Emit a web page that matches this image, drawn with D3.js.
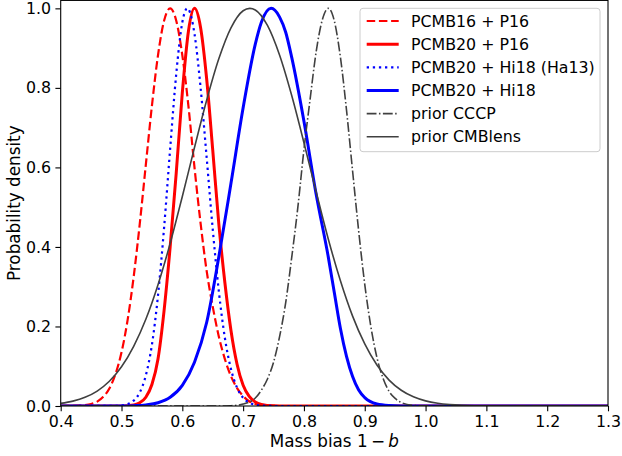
<!DOCTYPE html>
<html>
<head>
<meta charset="utf-8">
<script src="https://cdn.jsdelivr.net/npm/d3@7"></script>
<style>
  body { margin: 0; background: #fff; }
  svg { display: block; font-family: "DejaVu Sans", sans-serif; }
</style>
</head>
<body>
<div id="chart"></div>
<script>
// values
const labels = ["PCMB16 + P16", "PCMB20 + P16", "PCMB20 + Hi18 (Ha13)", "PCMB20 + Hi18", "prior CCCP", "prior CMBlens"];

const xP16old = [0.40,0.43,0.44,0.45,0.46,0.47,0.48,0.49,0.50,0.51,0.52,0.53,0.54,0.55,0.56,0.57,0.58,0.59,0.60,0.61,0.62,0.63,0.64,0.65,0.66,0.67,0.68,0.69,0.70,0.71,0.72,0.74,0.76,1.30];
const yP16old = [0,0.0009,0.0022,0.0051,0.011,0.023,0.044,0.080,0.135,0.216,0.325,0.458,0.607,0.755,0.882,0.969,1.0,0.969,0.882,0.755,0.60,0.46,0.34,0.25,0.175,0.118,0.075,0.045,0.025,0.012,0.005,0.0008,0,0];

const xP16 = [0.40,0.49,0.50,0.51,0.52,0.53,0.54,0.55,0.56,0.57,0.58,0.59,0.60,0.61,0.62,0.63,0.64,0.65,0.66,0.67,0.68,0.69,0.70,0.71,0.72,0.73,0.75,0.77,1.30];
const yP16 = [0,0,0.0002,0.0008,0.0026,0.0081,0.022,0.054,0.118,0.24,0.40,0.586,0.788,0.942,1.0,0.952,0.823,0.644,0.458,0.31,0.19,0.105,0.052,0.024,0.010,0.004,0.0005,0,0];

const xHa13 = [0.40,0.49,0.50,0.51,0.52,0.53,0.54,0.55,0.56,0.57,0.58,0.59,0.60,0.608,0.61,0.62,0.63,0.64,0.65,0.66,0.67,0.68,0.69,0.70,0.71,0.72,0.74,0.76,1.30];
const yHa13 = [0,0.0004,0.0015,0.0048,0.0135,0.034,0.077,0.154,0.278,0.448,0.647,0.835,0.965,1.0,0.998,0.936,0.801,0.625,0.445,0.289,0.171,0.093,0.046,0.0205,0.0084,0.0032,0.0003,0,0];

const xHi18 = [0.40,0.48,0.50,0.52,0.54,0.56,0.58,0.60,0.62,0.64,0.66,0.68,0.70,0.72,0.73,0.746,0.76,0.77,0.78,0.80,0.82,0.84,0.85,0.86,0.87,0.88,0.89,0.90,0.92,0.94,0.96,0.98,1.30];
const yHi18 = [0,0,0.0001,0.0008,0.0028,0.0082,0.022,0.052,0.11,0.21,0.375,0.56,0.75,0.91,0.965,1.0,0.978,0.94,0.876,0.716,0.533,0.375,0.285,0.195,0.125,0.074,0.040,0.021,0.005,0.0012,0.0002,0,0];

const xCCCP = [0.40,0.66,0.68,0.70,0.72,0.73,0.74,0.75,0.76,0.77,0.78,0.79,0.80,0.81,0.82,0.83,0.84,0.85,0.86,0.87,0.88,0.89,0.90,0.91,0.92,0.93,0.94,0.95,0.96,0.98,1.00,1.30];
const yCCCP = [0,0.0001,0.0007,0.005,0.02,0.04,0.068,0.11,0.175,0.26,0.375,0.50,0.645,0.77,0.89,0.97,1.0,0.968,0.877,0.744,0.591,0.440,0.306,0.200,0.122,0.070,0.037,0.019,0.0088,0.0016,0.0002,0];

const xLens = [0.40,0.42,0.44,0.46,0.48,0.50,0.52,0.54,0.56,0.58,0.60,0.62,0.64,0.66,0.68,0.70,0.711,0.72,0.74,0.76,0.78,0.80,0.82,0.84,0.86,0.88,0.90,0.92,0.94,0.96,0.98,1.00,1.02,1.04,1.06,1.08,1.10,1.15,1.30];
const yLens = [0.0065,0.0122,0.0219,0.0376,0.0622,0.0985,0.15,0.218,0.305,0.409,0.527,0.650,0.769,0.873,0.951,0.994,1.0,0.996,0.957,0.882,0.780,0.662,0.539,0.420,0.315,0.226,0.156,0.103,0.0652,0.0396,0.0231,0.0129,0.0069,0.0036,0.0018,0.0008,0.0004,0,0];

const xTicks = [0.4,0.5,0.6,0.7,0.8,0.9,1.0,1.1,1.2,1.3];
const yTicks = [0.0,0.2,0.4,0.6,0.8,1.0];

const xs = [xP16old, xP16, xHa13, xHi18, xCCCP, xLens];
const ys = [yP16old, yP16, yHa13, yHi18, yCCCP, yLens];

// styles
const styles = [
  {color: "#ff0000", width: 2.2, dash: "8.5,3.7"},
  {color: "#ff0000", width: 3, dash: null},
  {color: "#0000ff", width: 2.2, dash: "2.3,3.8"},
  {color: "#0000ff", width: 3, dash: null},
  {color: "#404040", width: 1.6, dash: "9.8,2.45,1.5,2.45"},
  {color: "#404040", width: 1.6, dash: null}
];

const width = 622, height = 456;
const mLeft = 60.7, mRight = 608, mTop = 0.4, mBottom = 406;

const svg = d3.select("#chart").append("svg")
  .attr("width", width).attr("height", height);

const xScale = d3.scaleLinear().domain([0.4, 1.3]).range([mLeft, mRight]);
const yScale = d3.scaleLinear().domain([0, 1.02]).range([mBottom, mTop]);

svg.append("clipPath").attr("id", "clip")
  .append("rect").attr("x", mLeft).attr("y", mTop)
  .attr("width", mRight - mLeft).attr("height", mBottom - mTop);

const line = d3.line().curve(d3.curveMonotoneX);

const plot = svg.append("g").attr("clip-path", "url(#clip)");
xs.forEach((xv, i) => {
  const pts = xv.map((v, j) => [xScale(v), yScale(ys[i][j])]);
  plot.append("path")
    .attr("d", line(pts))
    .attr("fill", "none")
    .attr("stroke", styles[i].color)
    .attr("stroke-width", styles[i].width)
    .attr("stroke-dasharray", styles[i].dash);
});

// axes
const fs = 15.8;
const xAxis = svg.append("g").attr("transform", `translate(0,${mBottom})`)
  .call(d3.axisBottom(xScale).tickValues(xTicks).tickFormat(d3.format(".1f")).tickSize(5.3).tickPadding(4.3));
const yAxis = svg.append("g").attr("transform", `translate(${mLeft},0)`)
  .call(d3.axisLeft(yScale).tickValues(yTicks).tickFormat(d3.format(".1f")).tickSize(5.3).tickPadding(4.3));
[xAxis, yAxis].forEach(g => {
  g.select(".domain").remove();
  g.selectAll("line").attr("stroke", "#000").attr("stroke-width", 1.1);
  g.selectAll("text").attr("font-size", fs).attr("fill", "#000").attr("font-family", "DejaVu Sans");
});

svg.append("rect").attr("x", mLeft).attr("y", mTop)
  .attr("width", mRight - mLeft).attr("height", mBottom - mTop)
  .attr("fill", "none").attr("stroke", "#000").attr("stroke-width", 1.1);

// axis labels
const xl = svg.append("text").attr("x", (mLeft + mRight) / 2).attr("y", 446.5)
  .attr("text-anchor", "middle").attr("font-size", 16.8).attr("fill", "#000");
xl.append("tspan").text("Mass bias 1\u2009\u2212\u2009");
xl.append("tspan").attr("font-style", "italic").text("b");

svg.append("text")
  .attr("transform", `translate(19.5,${(mTop + mBottom) / 2}) rotate(-90)`)
  .attr("text-anchor", "middle").attr("font-size", 16.8).attr("fill", "#000")
  .text("Probability density");

// legend
const lg = svg.append("g");
lg.append("rect").attr("x", 360).attr("y", 8.3).attr("width", 240).attr("height", 143.4)
  .attr("rx", 3).attr("fill", "#fff").attr("fill-opacity", 0.8)
  .attr("stroke", "#cccccc").attr("stroke-width", 1);
labels.forEach((t, i) => {
  const cy = 21 + i * 23.15;
  lg.append("line").attr("x1", 366.7).attr("x2", 398.7).attr("y1", cy).attr("y2", cy)
    .attr("stroke", styles[i].color).attr("stroke-width", styles[i].width)
    .attr("stroke-dasharray", styles[i].dash);
  lg.append("text").attr("x", 411).attr("y", cy + 5.7)
    .attr("font-size", fs).attr("fill", "#000").text(t);
});
</script>
</body>
</html>
